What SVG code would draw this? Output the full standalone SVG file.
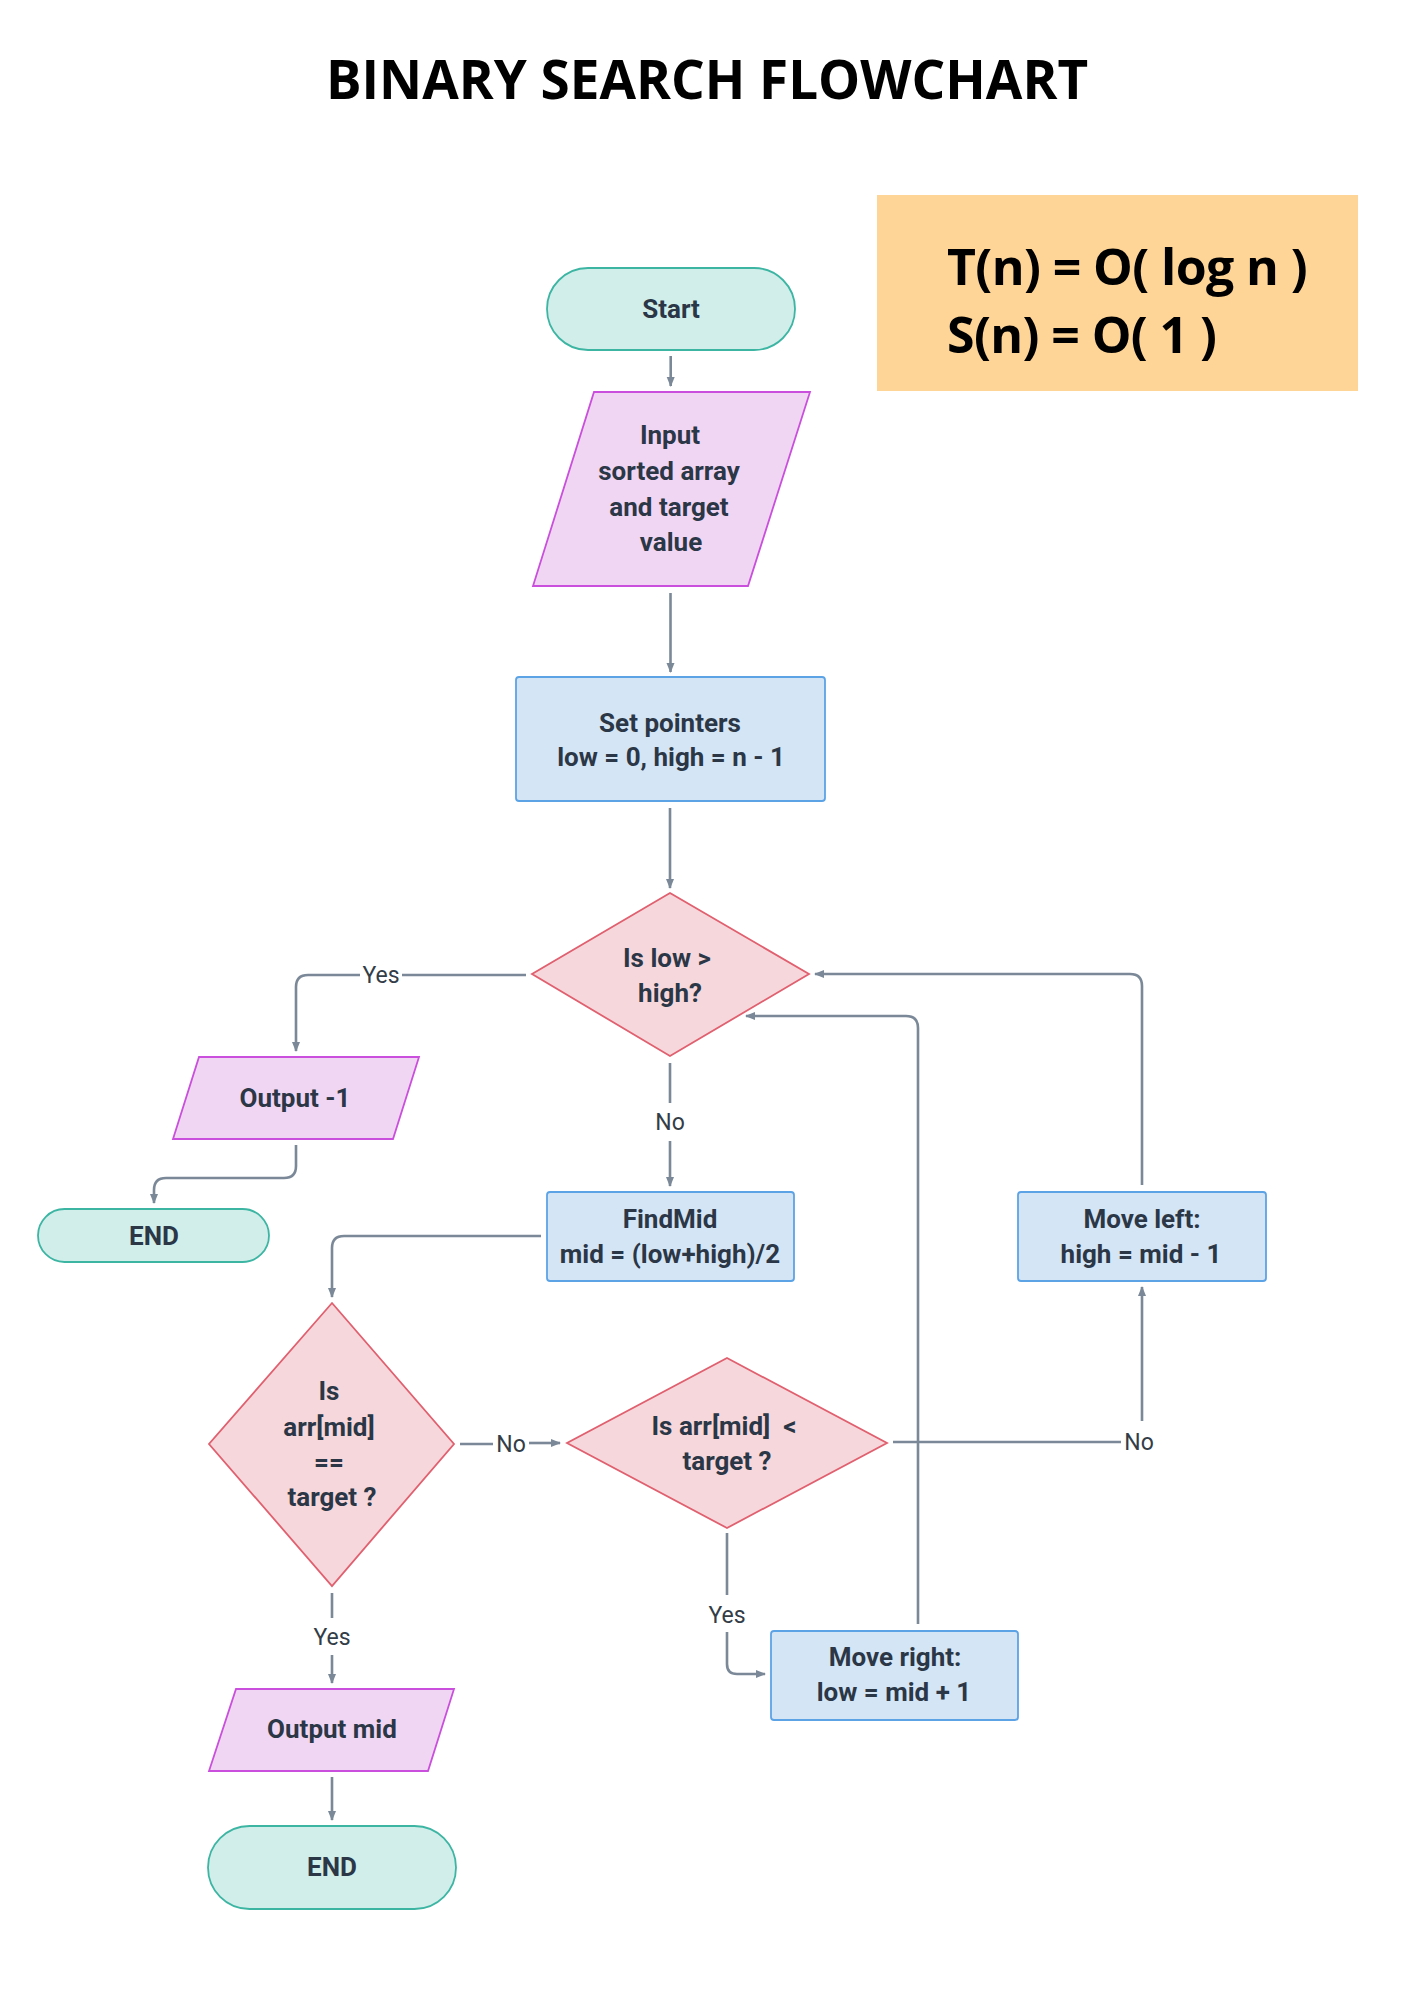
<svg xmlns="http://www.w3.org/2000/svg" width="1414" height="2000" viewBox="0 0 1414 2000">
<defs>
<marker id="arr" viewBox="0 0 10 10" refX="9" refY="5" markerWidth="10" markerHeight="10" markerUnits="userSpaceOnUse" orient="auto">
<path d="M0,1 L10,5 L0,9 Z" fill="#7a8898"/>
</marker>
</defs>
<style>
.term{fill:#d1eeeb;stroke:#3db5a3;stroke-width:1.8}
.io{fill:#f1d6f3;stroke:#c94fdc;stroke-width:1.8}
.proc{fill:#d4e5f5;stroke:#5ca3e6;stroke-width:1.8}
.dec{fill:#f6d8dc;stroke:#e0606f;stroke-width:1.8}
.t{font-family:Roboto,"Liberation Sans",sans-serif;font-weight:700;font-size:26px;fill:#2b3746;text-anchor:middle;white-space:pre}
.lbl{font-family:Roboto,"Liberation Sans",sans-serif;font-weight:400;font-size:23px;fill:#333d47;text-anchor:middle}
.c path{fill:none;stroke:#7a8898;stroke-width:2.6}
.head{font-family:"Open Sans","Liberation Sans",sans-serif;font-weight:700;fill:#000}
</style>
<rect width="1414" height="2000" fill="#ffffff"/>
<text class="head" x="707" y="99" font-size="53" text-anchor="middle">BINARY SEARCH FLOWCHART</text>
<g id="complexity">
<rect x="877" y="195" width="481" height="196" fill="#fed597"/>
<text class="head" x="947" y="285" font-size="50" letter-spacing="-0.6">T(n) = O( log n )</text>
<text class="head" x="947" y="353" font-size="50" letter-spacing="-0.6">S(n) = O( 1 )</text>
</g>
<g id="start">
<rect class="term" x="547" y="268" width="248" height="82" rx="41"/>
<text class="t" x="671" y="318">Start</text>
</g>
<g id="input">
<path class="io" d="M594,392 L810,392 L748,586 L533,586 Z"/>
<text class="t" x="670" y="444">Input</text>
<text class="t" x="669" y="480">sorted array</text>
<text class="t" x="669" y="516">and target</text>
<text class="t" x="671" y="551">value</text>
</g>
<g id="setpointers">
<rect class="proc" x="516" y="677" width="309" height="124" rx="3"/>
<text class="t" x="670" y="732">Set pointers</text>
<text class="t" x="671" y="766">low = 0, high = n - 1</text>
</g>
<g id="check-low-high">
<path class="dec" d="M670,893 L809,974 L670,1056 L532,974 Z"/>
<text class="t" x="667" y="967">Is low &gt;</text>
<text class="t" x="670" y="1002">high?</text>
</g>
<g id="output-neg1">
<path class="io" d="M199,1057 L419,1057 L393,1139 L173,1139 Z"/>
<text class="t" x="295" y="1107">Output -1</text>
</g>
<g id="end1">
<rect class="term" x="38" y="1209" width="231" height="53" rx="26.5"/>
<text class="t" x="154" y="1245">END</text>
</g>
<g id="findmid">
<rect class="proc" x="547" y="1192" width="247" height="89" rx="3"/>
<text class="t" x="670" y="1228">FindMid</text>
<text class="t" x="670" y="1263">mid = (low+high)/2</text>
</g>
<g id="moveleft">
<rect class="proc" x="1018" y="1192" width="248" height="89" rx="3"/>
<text class="t" x="1142" y="1228">Move left:</text>
<text class="t" x="1141" y="1263">high = mid - 1</text>
</g>
<g id="check-equal">
<path class="dec" d="M332,1303 L454,1444 L332,1586 L209,1444 Z"/>
<text class="t" x="329" y="1400">Is</text>
<text class="t" x="329" y="1436">arr[mid]</text>
<text class="t" x="329" y="1471">==</text>
<text class="t" x="332" y="1506">target ?</text>
</g>
<g id="check-less">
<path class="dec" d="M727,1358 L887,1443 L727,1528 L567,1443 Z"/>
<text class="t" x="724" y="1435" xml:space="preserve">Is arr[mid]  &lt;</text>
<text class="t" x="727" y="1470">target ?</text>
</g>
<g id="output-mid">
<path class="io" d="M236,1689 L454,1689 L428,1771 L209,1771 Z"/>
<text class="t" x="332" y="1738">Output mid</text>
</g>
<g id="moveright">
<rect class="proc" x="771" y="1631" width="247" height="89" rx="3"/>
<text class="t" x="895" y="1666">Move right:</text>
<text class="t" x="894" y="1701">low = mid + 1</text>
</g>
<g id="end2">
<rect class="term" x="208" y="1826" width="248" height="83" rx="41.5"/>
<text class="t" x="332" y="1876">END</text>
</g>
<g id="connectors" class="c">
<path d="M670.7,356 V386" marker-end="url(#arr)"/>
<path d="M670.5,593 V672" marker-end="url(#arr)"/>
<path d="M670,808 V888" marker-end="url(#arr)"/>
<path d="M526,975 H402"/>
<path d="M360,975 H308 Q296,975 296,987 V1051" marker-end="url(#arr)"/>
<path d="M296,1145 V1166 Q296,1178 284,1178 H166 Q154,1178 154,1190 V1203" marker-end="url(#arr)"/>
<path d="M670,1063 V1103"/>
<path d="M670,1141 V1186" marker-end="url(#arr)"/>
<path d="M541,1236 H344 Q332,1236 332,1248 V1297" marker-end="url(#arr)"/>
<path d="M460,1444 H493"/>
<path d="M529,1443 H560" marker-end="url(#arr)"/>
<path d="M332,1593 V1618"/>
<path d="M332,1655 V1683" marker-end="url(#arr)"/>
<path d="M332,1777 V1820" marker-end="url(#arr)"/>
<path d="M727,1533 V1595"/>
<path d="M727,1632 V1664 Q727,1674 737,1674 H765" marker-end="url(#arr)"/>
<path d="M893,1442 H1121"/>
<path d="M1142,1421 V1287" marker-end="url(#arr)"/>
<path d="M1142,1185 V986 Q1142,974 1130,974 H815" marker-end="url(#arr)"/>
<path d="M918,1624 V1028 Q918,1016 906,1016 H746" marker-end="url(#arr)"/>
<text class="lbl" x="381" y="983" stroke="none">Yes</text>
<text class="lbl" x="670" y="1130" stroke="none">No</text>
<text class="lbl" x="511" y="1452" stroke="none">No</text>
<text class="lbl" x="332" y="1645" stroke="none">Yes</text>
<text class="lbl" x="727" y="1623" stroke="none">Yes</text>
<text class="lbl" x="1139" y="1450" stroke="none">No</text>
</g>
</svg>
